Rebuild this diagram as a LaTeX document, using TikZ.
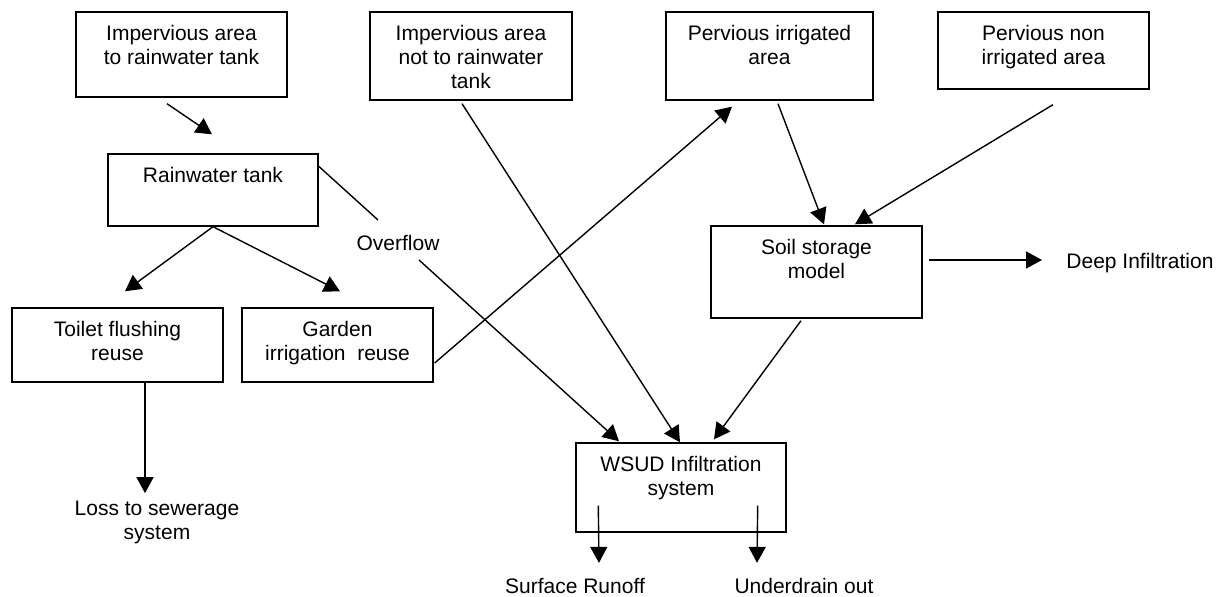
\documentclass[tikz,border=0pt]{standalone}
\usepackage{fontspec}
\setmainfont{Liberation Sans}
\usepackage{tikz}
\usetikzlibrary{arrows.meta,calc,positioning}
\tikzset{
    blk/.style 2 args={draw, rectangle, line width=0.7pt, inner sep=0pt, minimum width=#1*0.5pt, minimum height=#2*0.5pt},
    txt/.style={font=\fontsize{10.5}{12}\selectfont, align=center, inner sep=0pt},
    intxt/.style={txt, anchor=north, inner sep=7pt},
    ln/.style={line width=0.7pt},
    arr/.style={ln, -{Triangle[length=8pt,width=8.5pt]}}}

\begin{document}
\begin{tikzpicture}[x=0.5pt,y=-0.5pt]
\useasboundingbox (0,0) rectangle (1223,597);

\node[blk={211}{85}, label={[intxt]north:{Impervious area\\to rainwater tank}}] (imptank) at (181.5,54.5) {};
\node[blk={202}{88}, label={[intxt]north:{Impervious area\\not to rainwater\\tank}}] (impother) at (471,56) {};
\node[blk={207}{88}, label={[intxt]north:{Pervious irrigated\\area}}] (pervirr) at (769.5,56) {};
\node[blk={211}{77}, label={[intxt]north:{Pervious non\\irrigated area}}] (pervnon) at (1043.5,50.5) {};
\node[blk={210}{72}, label={[intxt]north:{Rainwater tank}}] (rwtank) at (213,190) {};
\node[blk={211}{74}, label={[intxt]north:{Toilet flushing\\reuse}}] (toilet) at (117.5,345) {};
\node[blk={191}{74}, label={[intxt]north:{Garden\\irrigation\ \ reuse}}] (garden) at (337.5,345) {};
\node[blk={211}{92}, label={[intxt]north:{Soil storage\\model}}] (soil) at (816.5,272) {};
\node[blk={210}{89}, label={[intxt]north:{WSUD Infiltration\\system}}] (wsud) at (681,487.5) {};

\node[txt] (overflow) at (398,243) {Overflow};
\node[txt] (sewer) at (157,522) {Loss to sewerage\\system};
\node[txt] (deep) at (1140,263) {Deep Infiltration};
\node[txt] (runoff) at (575,586) {Surface Runoff};
\node[txt] (underdrain) at (804,586) {Underdrain out};

\draw[arr] ($(imptank.south)+(-14.5,6)$) -- ($(rwtank.north)+(-1,-19)$);
\draw[ln] ($(rwtank.north east)+(0,13)$) -- ($(overflow.center)+(-20,-23)$);
\draw[arr] ($(overflow.center)+(21,17)$) -- ($(wsud.north)+(-62,-1)$);
\draw[arr] ($(rwtank.south)+(0,0)$) -- ($(toilet.north)+(7.5,-16)$);
\draw[arr] ($(rwtank.south)+(0,0)$) -- ($(garden.north)+(2.5,-16)$);
\draw[arr] ($(toilet.south)+(27.5,0)$) -- ($(sewer.north)+(-12,-7)$);
\draw[arr] ($(garden.east)+(1,18)$) -- ($(pervirr.south)+(-37.5,6)$);
\draw[arr] ($(impother.south)+(-9,3)$) -- ($(wsud.north)+(-1,0)$);
\draw[arr] ($(pervirr.south)+(8.5,3)$) -- ($(soil.north)+(7.5,-1)$);
\draw[arr] ($(pervnon.south)+(9.5,15)$) -- ($(soil.north)+(38.5,-1)$);
\draw[arr] ($(soil.south)+(-15.5,2)$) -- ($(wsud.north)+(33,-3)$);
\draw[arr] ($(soil.east)+(6,-12)$) -- ($(deep.west)+(-24,-3)$);
\draw[arr] ($(wsud.south west)+(23,-27)$) -- ($(runoff.north)+(24,-15)$);
\draw[arr] ($(wsud.south east)+(-29,-27)$) -- ($(underdrain.north)+(-47,-15)$);
\end{tikzpicture}
\end{document}
